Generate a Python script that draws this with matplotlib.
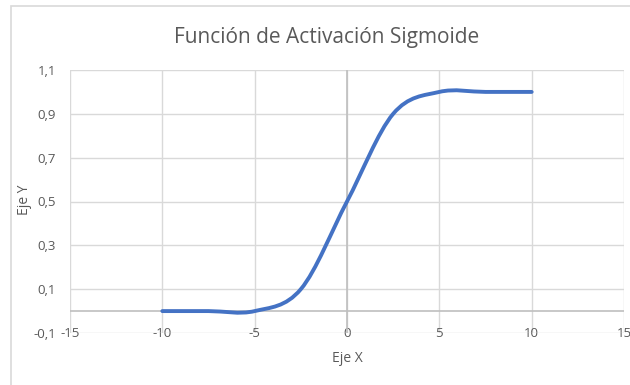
import matplotlib
matplotlib.use("Agg")
import matplotlib.pyplot as plt
from matplotlib.path import Path
from matplotlib.patches import PathPatch, Rectangle

# Sigmoid samples
x_vals = [-10, -7.5, -5, -2.5, 0, 2.5, 5, 7.5, 10]
y_vals = [0.0, 0.0, 0.0, 0.1, 0.5, 0.9, 1.0, 1.0, 1.0]

x_ticks = [-15, -10, -5, 0, 5, 10, 15]
x_tick_labels = ["-15", "-10", "-5", "0", "5", "10", "15"]
y_ticks = [-0.1, 0.1, 0.3, 0.5, 0.7, 0.9, 1.1]
y_tick_labels = ["-0,1", "0,1", "0,3", "0,5", "0,7", "0,9", "1,1"]

title = "Función de Activación Sigmoide"
x_label = "Eje X"
y_label = "Eje Y"

FONT = "Open Sans"
TXT = "#595959"
GRID = "#d9d9d9"
AXIS = "#bfbfbf"
BLUE = "#4472c4"

plt.rcParams["font.family"] = [FONT, "DejaVu Sans"]

fig = plt.figure(figsize=(6.3, 3.85), dpi=100)
W, H = 630, 385
ax = fig.add_axes([70 / W, 1 - 333 / H, (624 - 70) / W, (333 - 70) / H])

# chart border
fig.add_artist(Rectangle((11 / W, -0.05), 1.1, 1 - 6 / H + 0.05,
                         transform=fig.transFigure, fill=False,
                         edgecolor=GRID, linewidth=1.2))

ax.set_xlim(x_ticks[0], x_ticks[-1])
ax.set_ylim(y_ticks[0], y_ticks[-1])
ax.set_xticks(x_ticks)
ax.set_xticklabels(x_tick_labels)
ax.set_yticks(y_ticks)
ax.set_yticklabels(y_tick_labels)
ax.grid(True, color=GRID, linewidth=1.0)
ax.set_axisbelow(True)
for s in ax.spines.values():
    s.set_visible(False)
ax.tick_params(length=0, labelsize=9.5, labelcolor=TXT)
ax.tick_params(axis="x", pad=-4.5)
ax.tick_params(axis="y", pad=10)

ax.axhline(0, color=AXIS, linewidth=1.2, zorder=1.5)
ax.axvline(0, color=AXIS, linewidth=1.2, zorder=1.5)

# smoothed line through the samples (cubic Bezier segments)
n = len(x_vals)
verts = [(x_vals[0], y_vals[0])]
codes = [Path.MOVETO]
for i in range(n - 1):
    x0, y0 = x_vals[max(i - 1, 0)], y_vals[max(i - 1, 0)]
    x1, y1 = x_vals[i], y_vals[i]
    x2, y2 = x_vals[i + 1], y_vals[i + 1]
    x3, y3 = x_vals[min(i + 2, n - 1)], y_vals[min(i + 2, n - 1)]
    c1 = (x1 + (x2 - x0) / 6, y1 + (y2 - y0) / 6)
    c2 = (x2 - (x3 - x1) / 6, y2 - (y3 - y1) / 6)
    verts += [c1, c2, (x2, y2)]
    codes += [Path.CURVE4] * 3
ax.add_patch(PathPatch(Path(verts, codes), facecolor="none", edgecolor=BLUE,
                       linewidth=2.8, capstyle="round", joinstyle="round",
                       zorder=3))

fig.text(327 / W, 1 - 37 / H, title, ha="center", va="center",
         fontsize=15, color=TXT)
fig.text(347 / W, 1 - 358 / H, x_label, ha="center", va="center",
         fontsize=10, color=TXT)
fig.text(25 / W, 1 - 200 / H, y_label, ha="center", va="center",
         rotation=90, fontsize=10, color=TXT)

fig.savefig("out.png", dpi=100)
